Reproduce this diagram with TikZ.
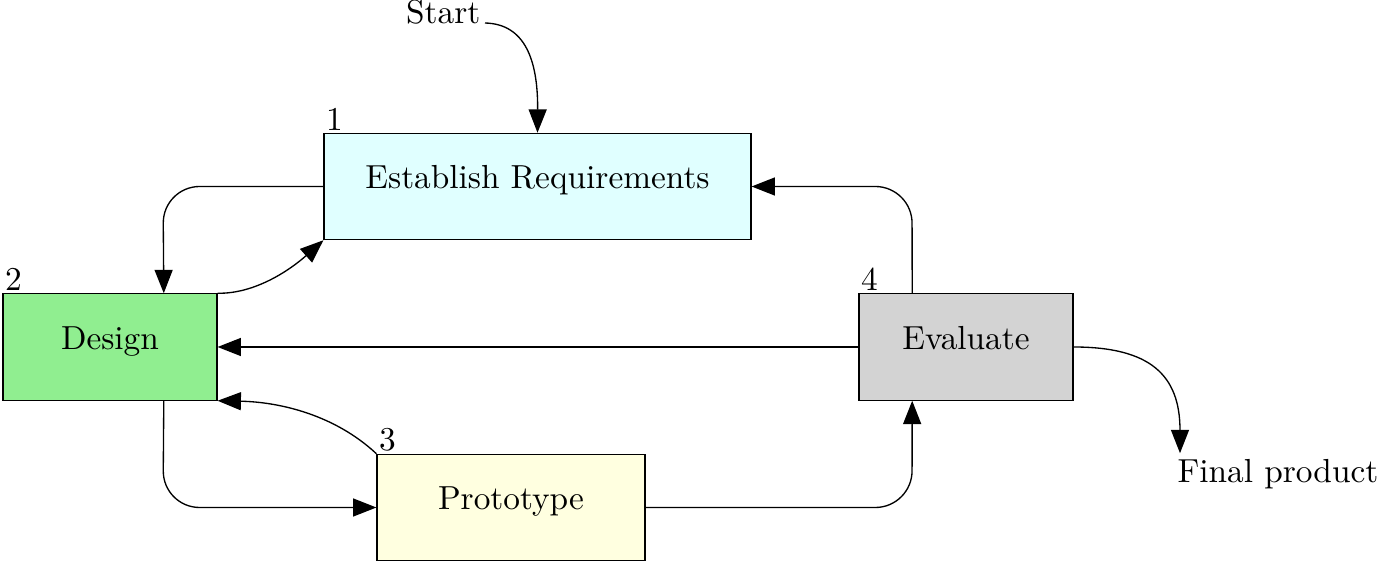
\documentclass[tikz,border=0pt]{standalone}
\usetikzlibrary{arrows.meta,calc}
\definecolor{cLightCyan}{HTML}{E0FFFF}
\definecolor{cLightGreen}{HTML}{90EE90}
\definecolor{cLightGray}{HTML}{D3D3D3}
\definecolor{cLightYellow}{HTML}{FFFFE0}
\tikzset{
  box/.style={draw, line width=0.35pt, rectangle, inner sep=0pt, minimum height=31.9pt},
  num/.style={anchor=south west, inner sep=0.6pt},
  conn/.style={line width=0.4pt, -{Triangle[length=7pt,width=5.4pt]}},
  plain/.style={draw=none, inner sep=0pt}
}
\newcommand{\boxtext}[1]{\raisebox{5.5pt}{#1}}
\begin{document}
\begin{tikzpicture}[x=0.3pt,y=-0.3pt]
\useasboundingbox (0,0) rectangle (1381,562);
\node[box, fill=cLightCyan, minimum width=128.1pt] (er) at (537.5,186.5) {\boxtext{Establish Requirements}};
\node[box, fill=cLightGreen, minimum width=64.2pt] (design) at (110,347) {\boxtext{Design}};
\node[box, fill=cLightGray, minimum width=64.2pt] (eval) at (966,347) {\boxtext{Evaluate}};
\node[box, fill=cLightYellow, minimum width=80.4pt] (proto) at (511,507.5) {\boxtext{Prototype}};
\node[num] (n1) at (er.north west) {1};
\node[num] (n2) at (design.north west) {2};
\node[num] (n3) at (proto.north west) {3};
\node[num] (n4) at (eval.north west) {4};
\node[plain, anchor=base east] (start) at (481,24) {Start};
\node[plain, anchor=base west] (final) at (1177,483) {Final product};
\coordinate (finaltip) at ($(final.north west)+(3,-6)$);
% connectors
\draw[conn] ($(start.base east)+(4,-1)$) .. controls (525,24) and (538,60) .. (er.north);
\draw[conn, rounded corners=11pt] (er.west) -- (163,186.5) -- ($(design.north west)!0.75!(design.north east)$);
\draw[conn] (design.north east) .. controls (255,294) and (290,270) .. (er.south west);
\draw[conn, rounded corners=11pt] ($(eval.north west)!0.25!(eval.north east)$) -- (912,186.5) -- (er.east);
\draw[conn] (eval.west) -- (design.east);
\draw[conn] (proto.north west) .. controls (335,415) and (280,402) .. (design.south east);
\draw[conn, rounded corners=11pt] ($(design.south west)!0.75!(design.south east)$) -- (163,507.5) -- (proto.west);
\draw[conn, rounded corners=11pt] (proto.east) -- (912,507.5) -- ($(eval.south west)!0.25!(eval.south east)$);
\draw[conn] (eval.east) .. controls (1150,347) and (1180,375) .. (finaltip);
\end{tikzpicture}
\end{document}
